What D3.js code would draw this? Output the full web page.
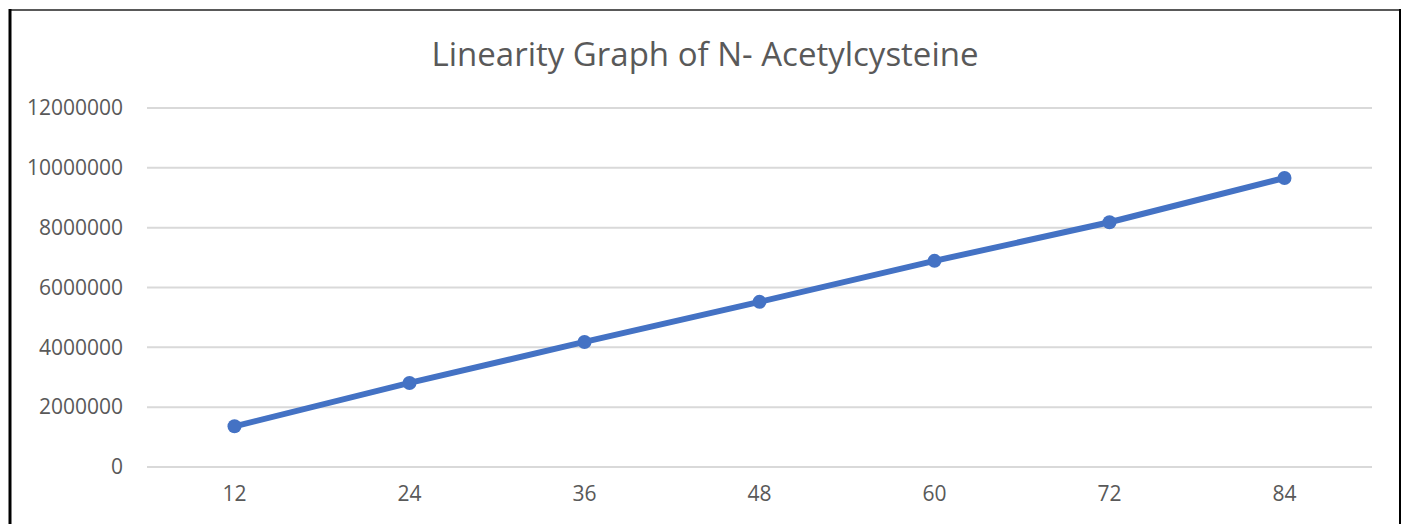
<!DOCTYPE html>
<html><head><meta charset="utf-8">
<script src="https://cdn.jsdelivr.net/npm/d3@7"></script>
<style>html,body{margin:0;padding:0;background:#fff;}svg{display:block;}</style>
</head><body>
<svg id="c" width="1402" height="524"></svg>
<script>
const categories = ["12","24","36","48","60","72","84"];
const values = [1360000, 2810000, 4180000, 5520000, 6890000, 8180000, 9660000];
const yTicks = [0, 2000000, 4000000, 6000000, 8000000, 10000000, 12000000];
const title = "Linearity Graph of N- Acetylcysteine";

const svg = d3.select("#c");
const W = 1402, H = 524;
const font = "'Open Sans', sans-serif";
const txt = "#595959";

// frame
svg.append("line").attr("x1",10).attr("x2",1401).attr("y1",10).attr("y2",10).attr("stroke","#595959").attr("stroke-width",2);
svg.append("line").attr("x1",10).attr("x2",10).attr("y1",9).attr("y2",H).attr("stroke","#000").attr("stroke-width",3);
svg.append("line").attr("x1",1400).attr("x2",1400).attr("y1",9).attr("y2",H).attr("stroke","#000").attr("stroke-width",2);

const x = d3.scaleBand().domain(categories).range([147, 1372]);
const y = d3.scaleLinear().domain([0, 12000000]).range([467, 108]);

// gridlines
svg.append("g").selectAll("line").data(yTicks).join("line")
  .attr("x1",147).attr("x2",1372)
  .attr("y1",d=>y(d)).attr("y2",d=>y(d))
  .attr("stroke","#d9d9d9").attr("stroke-width",2);

// y axis labels
const yAxis = d3.axisLeft(y).tickValues(yTicks).tickSize(0).tickPadding(0).tickFormat(d3.format("d"));
const gy = svg.append("g").attr("transform","translate(123,0)").call(yAxis);
gy.select(".domain").remove();
gy.selectAll("text").attr("font-family",font).attr("font-size",21).attr("fill",txt);

// x axis labels
const xAxis = d3.axisBottom(x).tickSize(0).tickPadding(0);
const gx = svg.append("g").attr("transform","translate(0,486)").call(xAxis);
gx.select(".domain").remove();
gx.selectAll("text").attr("font-family",font).attr("font-size",21).attr("fill",txt);

// line
const cx = d => x(d) + x.bandwidth()/2;
const data = categories.map((c,i)=>({c, v: values[i]}));
svg.append("path").datum(data)
  .attr("fill","none").attr("stroke","#4472C4").attr("stroke-width",6)
  .attr("stroke-linejoin","round").attr("stroke-linecap","round")
  .attr("d", d3.line().x(d=>cx(d.c)).y(d=>y(d.v)));
svg.append("g").selectAll("circle").data(data).join("circle")
  .attr("cx",d=>cx(d.c)).attr("cy",d=>y(d.v)).attr("r",7).attr("fill","#4472C4");

// title
svg.append("text").attr("x",705).attr("y",66).attr("text-anchor","middle")
  .attr("font-family",font).attr("font-size",33).attr("fill",txt).text(title);
</script>
</body></html>
